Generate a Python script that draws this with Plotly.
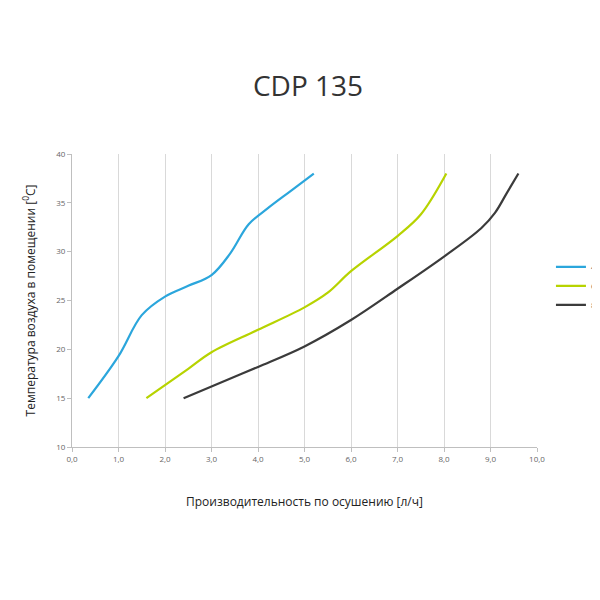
import plotly.graph_objects as go

# Series data
x40 = [0.35, 1.0, 1.5, 2.0, 2.5, 3.0, 3.4, 3.8, 4.2, 4.7, 5.2]
y40 = [15.0, 19.3, 23.5, 25.4, 26.5, 27.6, 29.8, 32.8, 34.4, 36.2, 38.0]

x60 = [1.6, 2.5, 3.0, 4.0, 5.0, 5.5, 6.0, 7.0, 7.5, 8.05]
y60 = [15.0, 18.0, 19.7, 22.0, 24.3, 25.8, 28.0, 31.6, 33.8, 38.0]

x80 = [2.4, 3.0, 4.0, 5.0, 6.0, 7.0, 8.0, 8.8, 9.1, 9.35, 9.6]
y80 = [15.0, 16.2, 18.2, 20.3, 23.0, 26.2, 29.5, 32.4, 34.0, 36.0, 38.0]

x_ticks = [i for i in range(0, 11)]
x_labels = [f"{v},0" for v in x_ticks]
y_ticks = [10, 15, 20, 25, 30, 35, 40]

fig = go.Figure()
for xs, ys, name, color in [
    (x40, y40, "40%", "#2ba6dc"),
    (x60, y60, "60%", "#b7d300"),
    (x80, y80, "80%", "#3b3b3b"),
]:
    fig.add_trace(go.Scatter(x=xs, y=ys, name=name, mode="lines",
                             line=dict(color=color, width=2.2, shape="spline", smoothing=1.0)))

fig.update_layout(
    width=600, height=600,
    paper_bgcolor="white", plot_bgcolor="white",
    font=dict(family="Open Sans", color="#333"),
    title=dict(text="CDP 135", x=0.5, y=0.87, xanchor="center", yanchor="middle",
               font=dict(size=28, color="#333")),
    margin=dict(l=64, r=71, t=146, b=161, autoexpand=False),
    legend=dict(x=1.03, y=0.55, yanchor="middle", font=dict(size=8, color="#555")),
)
fig.update_xaxes(range=[0, 10], tickvals=x_ticks, ticktext=x_labels, automargin=False,
                 showgrid=True, gridcolor="#d9d9d9", showline=True, linecolor="#bfbfbf",
                 ticks="outside", tickcolor="#bfbfbf", ticklen=4,
                 tickfont=dict(size=8, color="#666"),
                 title=dict(text="Производительность по осушению [л/ч]",
                            font=dict(size=12, color="#222"), standoff=35))
fig.update_yaxes(range=[10, 40], tickvals=y_ticks, showgrid=False, automargin=False,
                 showline=True, linecolor="#bfbfbf",
                 ticks="outside", tickcolor="#bfbfbf", ticklen=4,
                 tickfont=dict(size=8, color="#666"),
                 title=dict(text="Температура воздуха в помещении [<sup>0</sup>C]",
                            font=dict(size=12, color="#222"), standoff=18))

fig.write_html("out.html")
